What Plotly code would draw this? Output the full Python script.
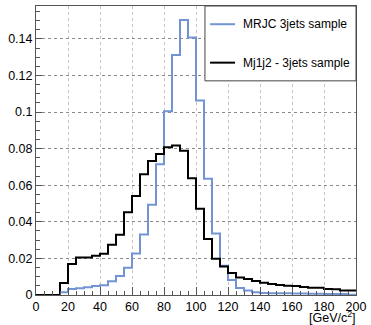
import numpy as np
import plotly.graph_objects as go

# ---- data ----
bin_edges = list(range(0, 205, 5))  # 40 bins of 5 GeV/c^2
mrjc_3jets = [0, 0, 0, 0.0015, 0.0033, 0.0037, 0.0043, 0.0049, 0.0053, 0.0075,
              0.0104, 0.0149, 0.0227, 0.0331, 0.0494, 0.0715, 0.1004, 0.1312, 0.1503, 0.1408,
              0.1063, 0.0636, 0.0336, 0.0160, 0.0082, 0.0038, 0.0024, 0.0015, 0.0011, 0.0010,
              0.0009, 0.0009, 0.0008, 0.0008, 0.0007, 0.0007, 0.0006, 0.0006, 0.0005, 0.0002]
mj1j2_3jets = [0, 0, 0, 0.0066, 0.0170, 0.0205, 0.0205, 0.0215, 0.0225, 0.0275,
               0.0330, 0.0452, 0.0541, 0.0660, 0.0732, 0.0771, 0.0808, 0.0817, 0.0789, 0.0638,
               0.0471, 0.0306, 0.0198, 0.0156, 0.0120, 0.0095, 0.0087, 0.0077, 0.0067, 0.0060,
               0.0055, 0.0051, 0.0049, 0.0044, 0.0040, 0.0040, 0.0033, 0.0031, 0.0024, 0.0024]
series_names = ["MRJC 3jets sample", "Mj1j2 - 3jets sample"]
y_tickvals = [0, 0.02, 0.04, 0.06, 0.08, 0.10, 0.12, 0.14]
y_ticktext = ["0", "0.02", "0.04", "0.06", "0.08", "0.1", "0.12", "0.14"]
x_tickvals = [0, 20, 40, 60, 80, 100, 120, 140, 160, 180, 200]
x_title = "[GeV/c<sup>2</sup>]"

BLUE = "#7294d4"
BLACK = "#000000"
FONT = "Liberation Sans, Arial, Helvetica, sans-serif"

fig = go.Figure()
for vals, name, col in [(mrjc_3jets, series_names[0], BLUE), (mj1j2_3jets, series_names[1], BLACK)]:
    fig.add_trace(go.Scatter(
        x=bin_edges, y=list(vals) + [vals[-1]], mode="lines",
        line=dict(color=col, width=2, shape="hv"), name=name, showlegend=False,
        hoverinfo="skip",
    ))

axis_common = dict(
    showline=True, linecolor="#555555", linewidth=1, mirror=True,
    ticks="inside", tickcolor="#555555", tickwidth=1,
    showgrid=True, griddash="dot", zeroline=False,
    tickfont=dict(family=FONT, size=12.5, color="black"),
)
fig.update_xaxes(
    range=[0, 200], tickvals=x_tickvals, ticklen=8, gridcolor="#c4c4c4",
    minor=dict(dtick=5, ticklen=4, ticks="inside", tickcolor="#555555", showgrid=False),
    **axis_common,
)
fig.update_yaxes(
    range=[0, 0.158], tickvals=y_tickvals, ticktext=y_ticktext, ticklen=6, gridcolor="#8a8a8a",
    minor=dict(dtick=0.005, ticklen=4, ticks="inside", tickcolor="#555555", showgrid=False),
    **axis_common,
)

# legend box (manual, ROOT-style)
fig.add_shape(type="rect", xref="paper", yref="paper", x0=0.528, x1=1.0, y0=0.741, y1=1.0,
              line=dict(color="#444444", width=1), fillcolor="white", layer="above")
for yy, name, col in [(0.937, series_names[0], BLUE), (0.804, series_names[1], BLACK)]:
    fig.add_shape(type="line", xref="paper", yref="paper", x0=0.544, x1=0.622, y0=yy, y1=yy,
                  line=dict(color=col, width=2), layer="above")
    fig.add_annotation(xref="paper", yref="paper", x=0.640, y=yy, text=name, showarrow=False,
                       xanchor="left", yanchor="middle",
                       font=dict(family=FONT, size=12, color="black"))

fig.add_annotation(xref="paper", yref="paper", x=1.0, y=0, yshift=-12, xshift=2, text=x_title,
                   showarrow=False, xanchor="right", yanchor="top",
                   font=dict(family=FONT, size=12.5, color="black"))

fig.update_layout(
    width=371, height=325,
    margin=dict(l=36, r=12, t=5, b=30),
    paper_bgcolor="white", plot_bgcolor="white",
    showlegend=False, hovermode=False,
)
fig.write_html("out.html", config={"displayModeBar": False},
               post_script="document.body.style.margin='0';document.body.style.padding='0';")
